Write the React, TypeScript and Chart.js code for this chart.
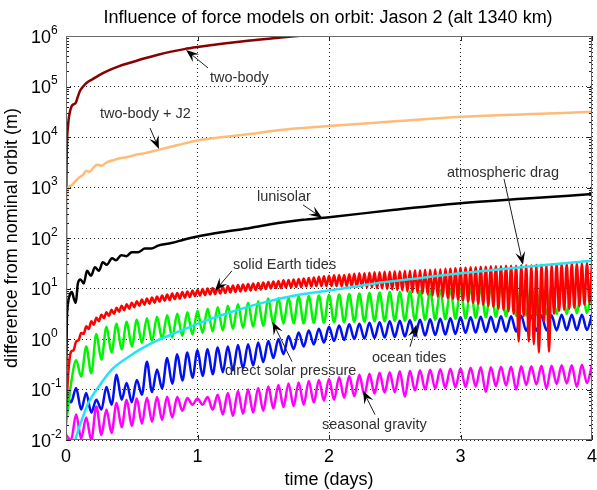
import React, { useEffect, useRef } from 'react';
import { Chart, registerables } from 'chart.js';

Chart.register(...registerables);

const FONT = '"Liberation Sans", Arial, Helvetica, sans-serif';

const chartTitle = 'Influence of force models on orbit: Jason 2 (alt 1340 km)';
const xAxisTitle = 'time (days)';
const yAxisTitle = 'difference from nominal orbit (m)';
const xTickValues = [0, 1, 2, 3, 4];
const yTickExponents = [-2, -1, 0, 1, 2, 3, 4, 5, 6];

// sampling grids (days): half-orbit samples and quarter-orbit samples over 4 days
const halfOrbitCount = 104;
const tOsc = Array.from({ length: halfOrbitCount + 1 }, (_, i) => (i * 4) / halfOrbitCount);
const tRed = Array.from({ length: 2 * halfOrbitCount + 1 }, (_, i) => (i * 4) / (2 * halfOrbitCount));

// two-body (m)
const twoBodyT = [0.001, 0.003, 0.006, 0.01, 0.015, 0.02, 0.03, 0.045, 0.06, 0.075, 0.09, 0.11, 0.13, 0.16, 0.2, 0.25, 0.3, 0.4, 0.5, 0.6, 0.7, 0.8, 0.9, 1.0, 1.2, 1.4, 1.6, 1.8, 2.0, 2.5, 3.0, 3.5, 4.0];
const twoBodyM = [32, 1000, 5000, 11200, 15800, 22400, 31600, 41700, 44700, 47900, 63100, 85100, 100000, 120000, 138000, 166000, 195000, 251000, 302000, 363000, 427000, 490000, 550000, 603000, 708000, 813000, 912000, 1020000, 1120000, 1350000, 1580000, 1820000, 2000000];

// two-body + J2 (m)
const j2T = [0.001, 0.004, 0.007, 0.012, 0.025, 0.045, 0.07, 0.1, 0.13, 0.155, 0.18, 0.21, 0.24, 0.27, 0.31, 0.36, 0.41, 0.46, 0.52, 0.6, 0.71, 0.85, 1.0, 1.2, 1.4, 1.6, 1.8, 2.0, 2.5, 3.0, 3.5, 4.0];
const j2M = [0.1, 200, 560, 890, 1050, 1120, 1320, 1580, 1780, 2140, 2040, 2510, 2820, 2690, 3160, 3470, 3800, 3980, 4370, 4790, 5620, 6920, 8510, 10000, 11500, 13500, 15100, 16600, 20400, 25100, 28200, 31600];

// lunisolar (m)
const lunisolarT = [0.002, 0.006, 0.015, 0.03, 0.045, 0.06, 0.075, 0.09, 0.11, 0.135, 0.16, 0.19, 0.22, 0.25, 0.28, 0.31, 0.35, 0.38, 0.42, 0.46, 0.5, 0.55, 0.6, 0.65, 0.7, 0.8, 0.9, 1.0, 1.2, 1.4, 1.6, 1.8, 2.0, 2.5, 3.0, 3.5, 4.0];
const lunisolarM = [0.25, 2.0, 5.0, 7.6, 8.5, 6.3, 5.2, 12.6, 15.1, 12.6, 22.4, 17.8, 26.3, 22.4, 33.1, 29.5, 39.8, 36.3, 45.7, 43.7, 52.5, 52.5, 61.7, 61.7, 70.8, 79.4, 93.3, 107, 132, 158, 195, 229, 257, 363, 490, 603, 741];

// atmospheric drag (m)
const dragT = [0.03, 0.05, 0.07, 0.09, 0.12, 0.17, 0.25, 0.35, 0.48, 0.58, 0.7, 0.85, 1.0, 1.25, 1.5, 1.78, 2.0, 2.35, 2.7, 3.0, 3.5, 4.0];
const dragM = [0.0025, 0.0056, 0.01, 0.0148, 0.025, 0.054, 0.115, 0.25, 0.45, 0.66, 0.95, 1.38, 2.0, 3.39, 5.25, 7.59, 9.12, 12.6, 16.2, 20.0, 26.9, 35.5];

// solid Earth tides (m), on tRed
const solidTidesM = [
  0.032, 0.25, 0.56, 0.6, 0.89, 0.95, 1.32, 1.26, 1.78, 1.58,
  2.24, 1.91, 2.63, 2.24, 3.02, 2.57, 3.39, 2.88, 3.8, 3.16,
  4.17, 3.47, 4.57, 3.72, 4.9, 3.98, 5.25, 4.27, 5.62, 4.57,
  6.03, 4.79, 6.31, 5.01, 6.61, 5.25, 6.92, 5.5, 7.24, 5.75,
  7.59, 5.89, 7.94, 6.17, 8.13, 6.31, 8.51, 6.61, 8.71, 6.76,
  9.12, 7.08, 9.33, 7.24, 9.77, 7.41, 10, 7.59, 10.2, 7.76,
  10.5, 7.94, 10.7, 8.13, 11.2, 8.32, 11.5, 8.51, 11.7, 8.71,
  12, 8.91, 12.3, 9.12, 12.6, 9.33, 12.9, 9.55, 13.2, 9.77,
  13.5, 10, 13.8, 10.2, 14.1, 10.2, 14.5, 10.5, 14.8, 10.5,
  15.1, 10.7, 15.5, 10.7, 15.8, 11, 16.2, 11, 16.6, 11.2,
  17, 11.2, 17.4, 11.2, 17.8, 11.2, 18.2, 11.2, 18.6, 11,
  18.6, 11, 19.1, 11, 19.5, 10.7, 20, 10.7, 20, 10.5,
  20.4, 10.5, 20.9, 10.2, 20.9, 10, 21.4, 9.77, 21.4, 9.55,
  21.9, 9.33, 21.9, 9.12, 22.4, 8.71, 22.4, 8.51, 22.9, 8.13,
  22.9, 7.94, 23.4, 7.59, 23.4, 7.24, 24, 6.92, 24, 6.76,
  24.5, 6.46, 24.5, 6.31, 25.1, 6.03, 25.7, 5.89, 25.7, 5.5,
  26.3, 5.25, 26.3, 5.01, 26.9, 4.79, 26.9, 4.57, 27.5, 4.37,
  27.5, 3.98, 27.5, 3.8, 28.2, 3.55, 28.2, 3.16, 28.2, 0.89,
  28.8, 2.82, 28.8, 0.89, 28.8, 0.79, 29.5, 0.54, 29.5, 2.24,
  29.5, 0.56, 29.5, 3.16, 30.2, 3.63, 30.2, 3.8, 30.2, 3.98,
  30.9, 4.17, 30.9, 4.47, 30.9, 4.79, 31.6, 5.25, 31.6,
];

// direct solar pressure (m), on tOsc
const solarPressureM = [
  0.02, 0.13, 0.38, 0.18, 0.71, 0.21, 1.26, 0.39, 1.74, 0.54,
  2.0, 0.62, 2.19, 0.71, 2.4, 0.83, 2.57, 0.91, 2.75, 1.0,
  2.95, 1.07, 3.16, 1.15, 3.39, 1.23, 3.63, 1.32, 3.98, 1.41,
  4.27, 1.48, 4.57, 1.58, 4.9, 1.66, 5.25, 1.74, 5.62, 1.82,
  6.31, 1.95, 6.46, 2.0, 6.61, 2.04, 6.92, 2.04, 7.08, 2.09,
  7.24, 2.09, 7.41, 2.14, 7.59, 2.14, 7.76, 2.19, 7.94, 2.19,
  8.13, 2.24, 8.32, 2.24, 8.51, 2.29, 8.51, 2.29, 8.71, 2.34,
  8.91, 2.4, 9.12, 2.4, 9.33, 2.45, 9.55, 2.51, 9.77, 2.57,
  10.0, 2.63, 10.0, 2.69, 10.2, 2.75, 10.5, 2.82, 10.5, 2.88,
  10.7, 2.95, 11.0, 3.02, 11.0, 3.09, 11.2, 3.16, 11.2, 3.16,
  11.5, 3.24, 11.5, 3.31, 11.7,
];

// ocean tides (m), on tOsc
const oceanTidesM = [
  0.089, 0.056, 0.107, 0.04, 0.085, 0.035, 0.063, 0.04, 0.112, 0.05,
  0.195, 0.063, 0.135, 0.056, 0.155, 0.079, 0.355, 0.089, 0.25, 0.105,
  0.42, 0.13, 0.5, 0.15, 0.54, 0.17, 0.6, 0.186, 0.63, 0.2,
  0.68, 0.22, 0.71, 0.24, 0.76, 0.26, 0.79, 0.3, 0.85, 0.35,
  0.91, 0.42, 1.0, 0.5, 1.15, 0.63, 1.35, 0.71, 1.48, 0.78,
  1.6, 0.85, 1.74, 0.91, 1.86, 0.95, 1.95, 1.0, 2.0, 1.02,
  2.09, 1.05, 2.14, 1.07, 2.24, 1.1, 2.29, 1.12, 2.34, 1.15,
  2.4, 1.17, 2.45, 1.2, 2.51, 1.23, 2.57, 1.26, 2.69, 1.32,
  2.69, 1.35, 2.75, 1.38, 2.75, 1.38, 2.82, 1.41, 2.82, 1.41,
  2.88, 1.45, 2.88, 1.45, 2.95, 1.48, 2.95, 1.48, 3.02, 1.51,
  3.02, 1.51, 3.02, 1.51, 3.09,
];

// seasonal gravity (m), on tOsc
const seasonalGravityM = [
  0.0126, 0.01, 0.032, 0.0107, 0.028, 0.01, 0.046, 0.0126, 0.04, 0.0138,
  0.054, 0.0178, 0.063, 0.019, 0.066, 0.021, 0.069, 0.023, 0.071, 0.025,
  0.072, 0.028, 0.071, 0.038, 0.068, 0.05, 0.066, 0.05, 0.071, 0.04,
  0.079, 0.032, 0.085, 0.03, 0.093, 0.033, 0.1, 0.035, 0.107, 0.038,
  0.115, 0.042, 0.123, 0.045, 0.132, 0.047, 0.138, 0.05, 0.148, 0.055,
  0.155, 0.06, 0.162, 0.063, 0.174, 0.069, 0.186, 0.074, 0.195, 0.079,
  0.204, 0.083, 0.214, 0.087, 0.219, 0.089, 0.229, 0.072, 0.234, 0.095,
  0.24, 0.1, 0.245, 0.105, 0.251, 0.107, 0.257, 0.11, 0.263, 0.112,
  0.269, 0.115, 0.275, 0.089, 0.275, 0.117, 0.282, 0.12, 0.282, 0.1,
  0.288, 0.123, 0.288, 0.126, 0.295, 0.105, 0.295, 0.129, 0.302, 0.132,
  0.302, 0.112, 0.309, 0.135, 0.309,
];

// first entry is drawn on top
const seriesList = [
  { label: 'atmospheric drag', t: dragT, v: dragM, color: '#22E4F4' },
  { label: 'solid Earth tides', t: tRed, v: solidTidesM, color: '#FF0000' },
  { label: 'direct solar pressure', t: tOsc, v: solarPressureM, color: '#00F500' },
  { label: 'ocean tides', t: tOsc, v: oceanTidesM, color: '#0010F0' },
  { label: 'seasonal gravity', t: tOsc, v: seasonalGravityM, color: '#FF00FF' },
  { label: 'lunisolar', t: lunisolarT, v: lunisolarM, color: '#000000' },
  { label: 'two-body + J2', t: j2T, v: j2M, color: '#FFBB78' },
  { label: 'two-body', t: twoBodyT, v: twoBodyM, color: '#880000' },
];

// annotation labels with arrows, in data coordinates [days, metres]
const annotationLabels = [
  { text: 'two-body', at: [1.095, 1.23e5], tail: [1.08, 2.33e5], tip: [0.913, 5.28e5] },
  { text: 'two-body + J2', at: [0.259, 2.39e4], tail: [0.639, 1.51e4], tip: [0.707, 5.8e3] },
  { text: 'lunisolar', at: [1.452, 543], tail: [1.802, 453], tip: [1.947, 251] },
  { text: 'atmospheric drag', at: [2.897, 1620], tail: [3.331, 1480], tip: [3.475, 29.4] },
  { text: 'solid Earth tides', at: [1.27, 24.5], tail: [1.262, 22.4], tip: [1.133, 9.0] },
  { text: 'direct solar pressure', at: [1.209, 0.196], tail: [1.719, 0.355], tip: [1.57, 2.19] },
  { text: 'ocean tides', at: [2.327, 0.355], tail: [2.616, 0.7], tip: [2.665, 1.91] },
  { text: 'seasonal gravity', at: [1.947, 0.0168], tail: [2.35, 0.0317], tip: [2.259, 0.0946] },
];

function drawArrow(ctx: CanvasRenderingContext2D, x1: number, y1: number, x2: number, y2: number) {
  const ang = Math.atan2(y2 - y1, x2 - x1);
  const c = Math.cos(ang);
  const s = Math.sin(ang);
  const L = 13;
  const W = 5;
  const N = 0.6;
  ctx.beginPath();
  ctx.moveTo(x1, y1);
  ctx.lineTo(x2 - c * L * N, y2 - s * L * N);
  ctx.stroke();
  ctx.beginPath();
  ctx.moveTo(x2, y2);
  ctx.lineTo(x2 - L * c + W * s, y2 - L * s - W * c);
  ctx.lineTo(x2 - L * N * c, y2 - L * N * s);
  ctx.lineTo(x2 - L * c - W * s, y2 - L * s + W * c);
  ctx.closePath();
  ctx.fill();
}

const decorPlugin = {
  id: 'decor',
  afterDraw(chart: any) {
    const { ctx, chartArea: a } = chart;
    const xs = chart.scales.x;
    const ys = chart.scales.y;
    ctx.save();

    // inner ticks
    ctx.strokeStyle = '#222';
    ctx.lineWidth = 1;
    ctx.beginPath();
    for (const v of xTickValues) {
      const px = Math.round(xs.getPixelForValue(v)) + 0.5;
      ctx.moveTo(px, a.bottom);
      ctx.lineTo(px, a.bottom - 5);
      ctx.moveTo(px, a.top);
      ctx.lineTo(px, a.top + 5);
    }
    for (const e of yTickExponents) {
      for (let m = 1; m <= 9; m++) {
        const val = m * Math.pow(10, e);
        if (val > ys.max * 1.0001) continue;
        const py = Math.round(ys.getPixelForValue(val)) + 0.5;
        const len = m === 1 ? 5 : 3;
        ctx.moveTo(a.left, py);
        ctx.lineTo(a.left + len, py);
        ctx.moveTo(a.right, py);
        ctx.lineTo(a.right - len, py);
      }
    }
    ctx.stroke();

    // frame
    ctx.strokeStyle = '#6a6a6a';
    ctx.strokeRect(a.left + 0.5, a.top + 0.5, a.right - a.left - 1, a.bottom - a.top - 1);

    // tick labels
    ctx.fillStyle = '#000';
    ctx.textBaseline = 'alphabetic';
    ctx.textAlign = 'left';
    for (const e of yTickExponents) {
      const py = ys.getPixelForValue(Math.pow(10, e));
      ctx.font = `18px ${FONT}`;
      ctx.fillText('10', 31, py + 6.5);
      const w = ctx.measureText('10').width;
      ctx.font = `12px ${FONT}`;
      ctx.fillText(String(e), 31 + w, py - 2.5);
    }
    ctx.font = `18px ${FONT}`;
    ctx.textAlign = 'center';
    for (const v of xTickValues) {
      ctx.fillText(String(v), xs.getPixelForValue(v), a.bottom + 22);
    }

    // titles
    const cx = (a.left + a.right) / 2;
    ctx.fillText(chartTitle, cx - 1, 22.5);
    ctx.fillText(xAxisTitle, cx, 485);
    ctx.save();
    ctx.translate(16.5, (a.top + a.bottom) / 2);
    ctx.rotate(-Math.PI / 2);
    ctx.fillText(yAxisTitle, 0, 0);
    ctx.restore();

    // annotations
    ctx.textAlign = 'left';
    ctx.font = `14.5px ${FONT}`;
    ctx.strokeStyle = '#202020';
    ctx.fillStyle = '#000';
    for (const an of annotationLabels) {
      drawArrow(
        ctx,
        xs.getPixelForValue(an.tail[0]), ys.getPixelForValue(an.tail[1]),
        xs.getPixelForValue(an.tip[0]), ys.getPixelForValue(an.tip[1])
      );
    }
    ctx.fillStyle = '#303030';
    for (const an of annotationLabels) {
      ctx.fillText(an.text, xs.getPixelForValue(an.at[0]), ys.getPixelForValue(an.at[1]));
    }
    ctx.restore();
  },
};

export default function App() {
  const ref = useRef<HTMLCanvasElement>(null);
  useEffect(() => {
    document.body.style.margin = '0';
    const canvas = ref.current!;
    const chart = new Chart(canvas, {
      type: 'line',
      data: {
        datasets: seriesList.map((s) => ({
          label: s.label,
          data: s.v.map((v, i) => ({ x: s.t[i], y: v })),
          borderColor: s.color,
          backgroundColor: s.color,
          borderWidth: 2.5,
          pointRadius: 0,
          fill: false,
          cubicInterpolationMode: 'monotone' as const,
          clip: 0,
        })),
      },
      options: {
        animation: false,
        responsive: false,
        events: [],
        layout: { padding: { left: 66, right: 5, top: 36, bottom: 50 } },
        plugins: { legend: { display: false }, tooltip: { enabled: false }, title: { display: false } },
        scales: {
          x: {
            type: 'linear',
            min: 0,
            max: 4,
            ticks: { display: false, stepSize: 1 },
            grid: { color: 'rgba(0,0,0,0.85)', lineWidth: 1, drawTicks: false },
            border: { display: false, dash: [1, 3] },
          },
          y: {
            type: 'logarithmic',
            min: 1e-2,
            max: 1e6,
            ticks: { display: false },
            afterBuildTicks: (axis: any) => {
              axis.ticks = yTickExponents.map((e) => ({ value: Math.pow(10, e) }));
            },
            grid: { color: 'rgba(0,0,0,0.85)', lineWidth: 1, drawTicks: false },
            border: { display: false, dash: [1, 3] },
          },
        },
      },
      plugins: [decorPlugin],
    } as any);
    return () => chart.destroy();
  }, []);
  return (
    <div style={{ width: 597, height: 490, position: 'relative' }}>
      <canvas ref={ref} width={597} height={490} style={{ display: 'block' }} />
    </div>
  );
}
